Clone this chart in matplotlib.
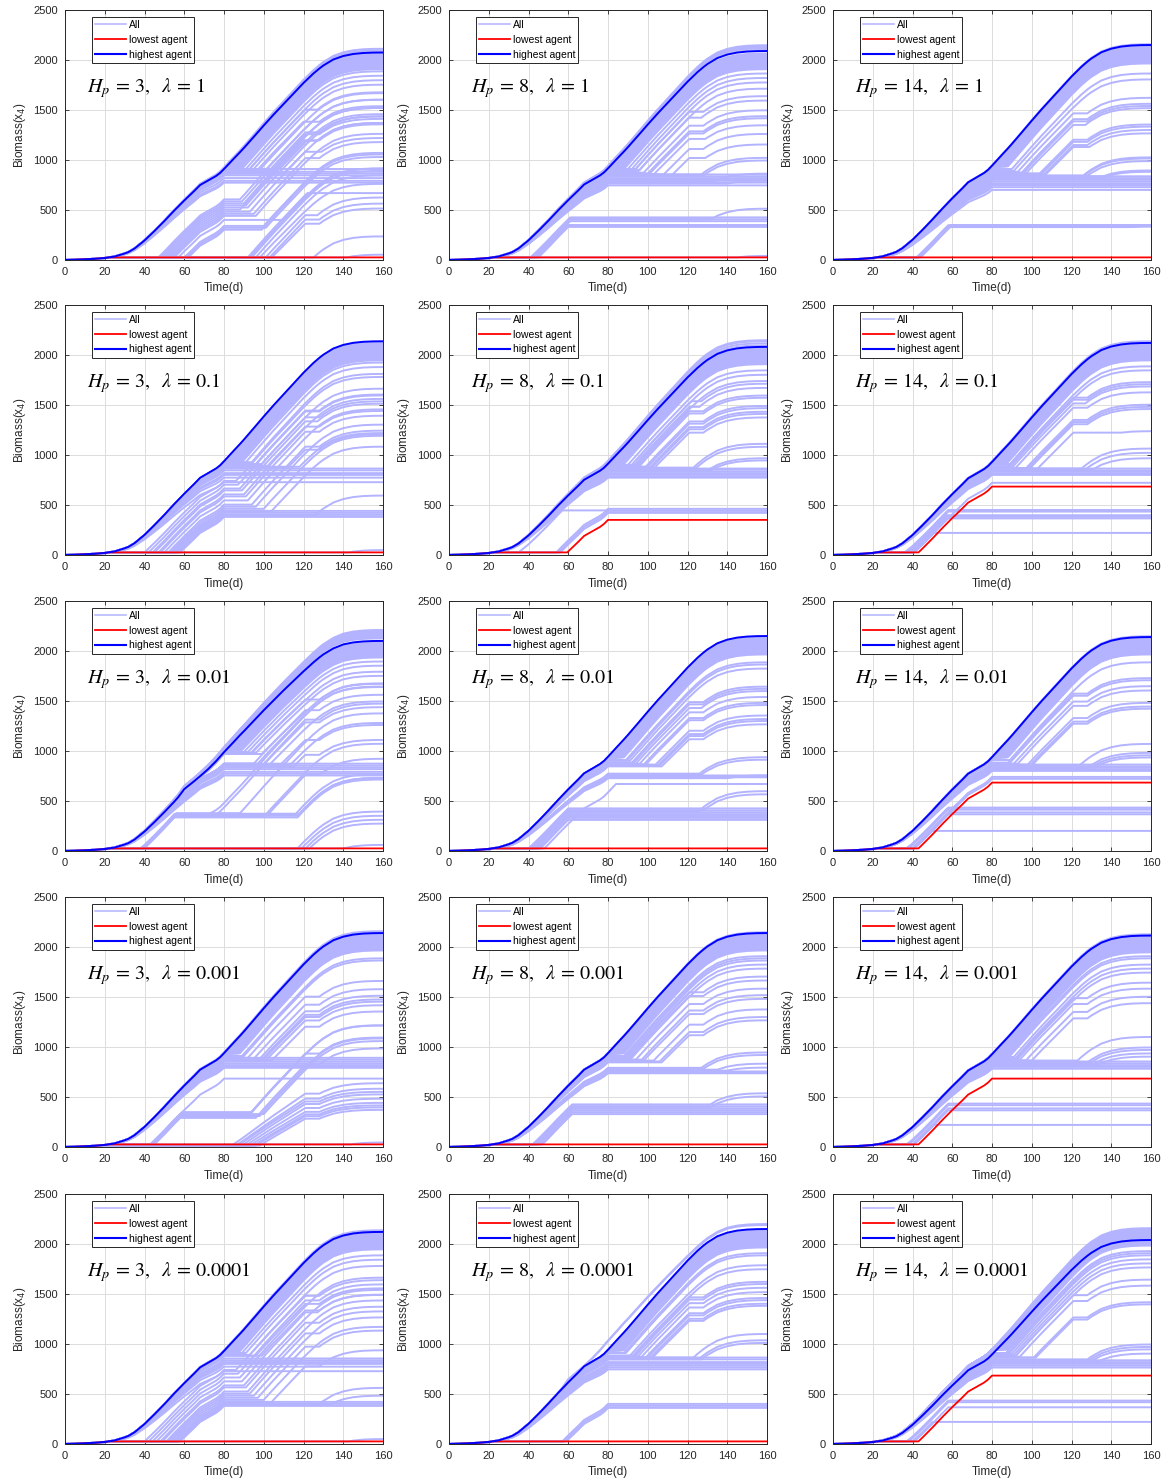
import numpy as np
import matplotlib
matplotlib.use("Agg")
import matplotlib.pyplot as plt
from matplotlib.lines import Line2D

plt.rcParams["font.family"] = ["Liberation Sans", "DejaVu Sans"]

# ---------------------------------------------------------------------------
# Growth curves of a fully active agent (biomass x4 vs. day)
# ---------------------------------------------------------------------------
TIME_KNOTS = [0, 5, 10, 15, 20, 22, 25, 30, 32, 35, 40, 45, 47, 50, 55, 57, 60,
              65, 68, 72, 76, 78, 80, 85, 88, 90, 95, 100, 105, 110, 115, 120,
              125, 128, 130, 135, 140, 145, 150, 155, 160]
GROWTH_A = [0, 3, 7, 12, 20, 26, 35, 65, 80, 115, 195, 290, 330, 390, 495, 535,
            595, 690, 750, 795, 840, 870, 910, 1015, 1077, 1120, 1232, 1345,
            1455, 1560, 1665, 1770, 1865, 1915, 1945, 2005, 2040, 2060, 2070,
            2074, 2075]
GROWTH_B = [0, 3, 7, 12, 20, 26, 35, 65, 80, 115, 195, 290, 330, 390, 495, 540,
            620, 700, 750, 820, 900, 945, 990, 1095, 1160, 1200, 1305, 1410,
            1510, 1610, 1705, 1800, 1890, 1940, 1970, 2030, 2070, 2090, 2100,
            2104, 2105]

HP_VALUES = [3, 8, 14]
LAMBDA_LABELS = ["1", "0.1", "0.01", "0.001", "0.0001"]

# highest agent: growth curve and gain for every (lambda row, Hp column)
TOP_BASE = [["A", "A", "A"],
            ["A", "A", "A"],
            ["B", "A", "A"],
            ["A", "A", "A"],
            ["A", "A", "A"]]
TOP_GAIN = [[1.0, 1.007, 1.036],
            [1.03, 1.003, 1.022],
            [0.998, 1.036, 1.031],
            [1.031, 1.031, 1.019],
            [1.022, 1.036, 0.983]]

# lowest agent: days on which growth switches off / on
LOW_TOGGLES = [[(22,), (22,), (22,)],
               [(22,), (22, 59.5, 80), (22, 43, 80)],
               [(22,), (22,), (22, 43, 80)],
               [(22,), (22,), (22, 43, 80)],
               [(22,), (22,), (22, 43, 80)]]

# days on which agents of the upper fan resume growth after the day-80 pause
FAN_RESTART = [80.5, 81, 81.5, 82, 82.5, 83, 83.5, 84, 84.5, 85, 85.5, 86,
               86.5, 87, 87.5, 88]
# gain of the upper fan in each panel
FAN_GAIN = [[1.0, 1.0, 1.03],
            [1.02, 1.0, 1.02],
            [1.0, 1.03, 1.03],
            [1.03, 1.03, 1.02],
            [1.02, 1.03, 1.04]]

# every other agent: (gain, switch days); growth is on at day 0
AGENTS_1_1 = [
    (1.01, ()), (1.018, ()), (0.995, ()), (1.005, ()),
    (1.0, (80, 89)), (1.0, (80, 91)), (1.0, (80, 93)), (1.0, (80, 95)),
    (0.99, (80, 98)), (0.99, (80, 101)), (0.98, (80, 104)), (0.98, (80, 107)),
    (0.98, (80, 92, 121, 127)), (0.97, (80, 96, 120, 128)),
    (0.96, (80, 102, 121, 128)), (0.95, (80, 110, 121, 129)),
    (0.85, (80,)), (0.87, (80,)), (0.9, (80,)), (0.93, (80,)), (0.95, (80,)),
    (0.97, (80,)), (1.0, (80,)),
    (1.0, (22, 47, 80, 88)), (1.0, (22, 48, 80, 89, 121, 128)),
    (1.0, (22, 49, 80, 90)), (1.0, (22, 50, 80, 91, 121, 127)),
    (1.0, (22, 51, 80, 92)), (1.0, (22, 52, 80, 88, 120, 128)),
    (1.0, (22, 53, 80, 93)), (1.0, (22, 54, 80, 95, 121, 128)),
    (1.0, (22, 55, 80, 96)), (1.0, (22, 57, 80, 110)),
    (1.0, (22, 60, 80, 100)), (1.0, (22, 61, 80, 101)), (1.0, (22, 62, 80, 99)),
    (1.0, (22, 93)), (1.0, (22, 94)), (1.0, (22, 96)), (0.95, (22, 98)),
    (1.0, (22, 92, 122)), (1.0, (22, 101, 121, 127)),
    (1.0, (22, 103, 121, 128)), (0.95, (22, 104, 121, 128)),
    (1.0, (22, 125)), (1.0, (22, 142)),
]
AGENTS_1_2 = [
    (1.02, ()), (1.03, ()), (1.035, ()), (1.012, ()), (1.025, ()),
    (1.0, (80, 90)), (1.0, (80, 92)), (1.0, (80, 94)), (0.99, (80, 96)),
    (0.98, (80, 93, 121, 128)), (0.97, (80, 95, 121, 127)),
    (0.96, (80, 98, 121, 128)), (0.95, (80, 100, 121, 128)),
    (0.95, (80, 101, 121, 128)), (0.94, (80, 103, 121, 129)),
    (0.94, (80, 108, 121, 128)), (0.93, (80, 112, 121, 129)),
    (0.93, (80, 128)), (0.94, (80, 127)),
    (0.82, (80,)), (0.85, (80,)), (0.87, (80,)), (0.88, (80,)), (0.9, (80,)),
    (0.92, (80,)), (0.94, (80,)), (0.86, (80, 133)), (0.84, (80, 140)),
    (1.0, (22, 41, 61)), (1.0, (22, 42, 61)), (1.0, (22, 43, 61)),
    (1.0, (22, 44, 60)), (1.0, (22, 45, 60)), (1.0, (22, 42, 61, 132)),
    (1.0, (22, 145)),
]
AGENTS_1_3 = [
    (1.03, ()), (1.04, ()),
    (1.0, (80, 90)), (0.98, (80, 91)),
    (0.97, (80, 93, 121, 128)), (0.96, (80, 95, 121, 128)),
    (0.96, (80, 96, 121, 128)), (0.95, (80, 97, 121, 127)),
    (0.95, (80, 104, 121, 128)), (0.95, (80, 105, 121, 128)),
    (0.94, (80, 106, 121, 128)), (0.94, (80, 107, 121, 129)),
    (0.92, (80, 126)), (0.93, (80, 126)), (0.91, (80, 127)),
    (0.9, (80, 135)), (0.92, (80, 136)),
    (0.77, (80,)), (0.8, (80,)), (0.82, (80,)), (0.84, (80,)), (0.86, (80,)),
    (0.88, (80,)), (0.9, (80,)), (0.92, (80,)), (0.83, (80, 150)),
    (1.0, (22, 43, 58, 150)), (1.0, (22, 43, 59)), (1.0, (22, 44, 59, 148)),
    (1.0, (22, 42, 58)),
]
AGENTS_2_1 = [
    (1.025, ()), (1.02, ()),
    (1.02, (80, 89)), (1.02, (80, 91)), (1.02, (80, 94)),
    (1.0, (80, 96, 121, 128)), (1.0, (80, 99, 121, 128)),
    (0.98, (80, 102, 121, 128)),
    (0.8, (80,)), (0.85, (80,)), (0.88, (80,)), (0.9, (80,)), (0.93, (80,)),
    (0.95, (80,)), (0.97, (80, 118)), (0.96, (80, 112, 121, 128)),
    (1.0, (22, 40, 80, 86)), (1.0, (22, 42, 80, 87, 121, 128)),
    (1.0, (22, 44, 80, 88)), (1.0, (22, 45, 80, 89, 121, 127)),
    (1.0, (22, 47, 80, 90)), (1.0, (22, 48, 80, 91, 121, 128)),
    (1.0, (22, 50, 80, 92)), (1.0, (22, 52, 80, 94, 121, 128)),
    (1.0, (22, 53, 80, 96)), (1.0, (22, 54, 80, 100)),
    (1.0, (22, 55, 80, 104)),
    (1.0, (22, 55, 80)), (1.0, (22, 56, 80)), (1.0, (22, 57, 80)),
    (1.0, (22, 58, 80)), (1.0, (22, 57, 80, 126)),
    (1.0, (22, 143)),
]
AGENTS_2_2 = [
    (1.02, ()), (1.03, ()), (1.035, ()), (1.01, ()),
    (0.99, (80, 90)), (0.99, (80, 92)), (0.98, (80, 94)),
    (0.99, (80, 92, 122, 127)), (0.98, (80, 93, 121, 126)),
    (0.98, (80, 95, 121, 128)), (0.98, (80, 96, 121, 128)),
    (0.97, (80, 99, 121, 128)), (0.97, (80, 100, 121, 128)),
    (0.96, (80, 101, 121, 128)), (0.96, (80, 102, 121, 128)),
    (0.95, (80, 103, 121, 128)),
    (0.95, (80, 124)), (0.96, (80, 123)), (0.93, (80, 130)), (0.92, (80, 131)),
    (0.85, (80,)), (0.86, (80,)), (0.88, (80,)), (0.9, (80,)), (0.92, (80,)),
    (0.94, (80,)), (0.95, (80,)),
    (1.0, (22, 35, 57)), (1.0, (22, 54, 80)), (1.0, (22, 55, 80)),
    (1.0, (22, 56, 80)),
]
AGENTS_2_3 = [
    (1.025, ()), (1.03, ()),
    (1.0, (80, 89)), (0.99, (80, 90)),
    (0.97, (80, 88, 121, 128)), (0.97, (80, 89, 121, 128)),
    (0.96, (80, 90, 121, 127)), (0.96, (80, 92, 121, 128)),
    (0.95, (80, 97, 121, 128)), (0.95, (80, 98, 121, 128)),
    (0.95, (80, 99, 121, 128)), (0.95, (80, 103, 121, 145)),
    (0.94, (80, 127)), (0.95, (80, 125)), (0.93, (80, 130)),
    (0.88, (80,)), (0.9, (80,)), (0.92, (80,)), (0.93, (80,)), (0.95, (80,)),
    (1.0, (22, 41, 80)),
    (1.0, (22, 36, 58)), (1.0, (22, 37, 58)), (1.0, (22, 38, 57)),
    (1.0, (22, 39, 57)), (1.0, (22, 40, 57)),
    (1.0, (22, 40, 50)),
]
AGENTS_3_1 = [
    (0.83, (80,)), (0.85, (80,)), (0.87, (80,)), (0.9, (80,)), (0.92, (80,)),
    (0.94, (80,)), (0.96, (80,)),
    (0.96, (80, 95, 121, 128)), (0.96, (80, 97)), (0.95, (80, 100, 121, 128)),
    (0.95, (80, 103)), (0.94, (80, 108, 121, 128)), (0.94, (80, 113)),
    (0.93, (80, 115, 121, 128)),
    (1.0, (22, 39, 55, 70)), (1.0, (22, 39, 55, 74, 121, 128)),
    (1.0, (22, 38, 56, 88)), (1.0, (22, 39, 55, 100)),
    (1.0, (22, 39, 56, 102, 121, 128)), (1.03, (22, 38, 55, 116)),
    (1.03, (22, 39, 55, 117)), (1.03, (22, 39, 56, 118)),
    (1.03, (22, 40, 55, 117)),
    (1.0, (22, 117)), (1.0, (22, 119)), (1.0, (22, 121)), (1.0, (22, 123)),
    (1.0, (22, 140)),
]
SMOOTH_3_1 = [
    (0.99, ()), (1.01, ()), (1.02, ()), (1.03, ()), (1.04, ()), (1.045, ()),
    (1.05, ()), (1.015, ()), (1.025, ()), (1.035, ()),
    (1.0, (80, 90)), (1.0, (80, 92)), (0.99, (80, 94)), (0.99, (80, 96)),
    (0.98, (80, 99)), (0.98, (80, 93, 121, 128)),
]
AGENTS_3_2 = [
    (1.03, ()), (1.025, ()),
    (1.0, (80, 89)), (1.0, (80, 90)), (0.99, (80, 91)),
    (0.97, (80, 92, 121, 128)), (0.97, (80, 93, 121, 128)),
    (0.96, (80, 94, 121, 127)), (0.96, (80, 96, 121, 128)),
    (0.95, (80, 98, 121, 128)), (0.95, (80, 99, 121, 128)),
    (0.95, (80, 104, 121, 128)), (0.94, (80, 105, 121, 128)),
    (0.94, (80, 106, 121, 128)), (0.93, (80, 107, 121, 128)),
    (0.81, (80,)), (0.82, (80,)), (0.83, (80,)), (0.8, (80, 140)),
    (0.85, (80, 126)), (0.84, (80, 127)),
    (1.0, (22, 48, 84)),
    (1.0, (22, 40, 60)), (1.0, (22, 41, 60)), (1.0, (22, 42, 60)),
    (1.0, (22, 43, 60)), (1.0, (22, 44, 60)), (1.0, (22, 45, 60)),
    (1.0, (22, 46, 60)), (1.0, (22, 41, 60, 128)), (1.0, (22, 42, 60, 125)),
]
AGENTS_3_3 = [
    (1.03, ()), (1.035, ()),
    (1.0, (80, 89)),
    (0.97, (80, 88, 121, 128)), (0.97, (80, 89, 121, 128)),
    (0.96, (80, 91, 121, 128)), (0.96, (80, 93, 121, 128)),
    (0.95, (80, 98, 121, 128)), (0.94, (80, 99, 121, 128)),
    (0.94, (80, 100, 121, 128)),
    (0.94, (80, 124)), (0.92, (80, 130)), (0.93, (80, 129)), (0.91, (80, 131)),
    (0.88, (80,)), (0.9, (80,)), (0.92, (80,)), (0.93, (80,)), (0.95, (80,)),
    (1.0, (22, 41, 80)), (1.0, (22, 40, 80)),
    (1.0, (22, 37, 58)), (1.0, (22, 38, 58)), (1.0, (22, 37, 57)),
    (1.0, (22, 40, 58)), (1.0, (22, 41, 58)),
    (1.0, (22, 40, 49)),
]
AGENTS_4_1 = [
    (1.035, ()), (1.04, ()),
    (1.0, (80, 89)), (1.0, (80, 90)),
    (0.98, (80, 92, 121, 128)), (0.97, (80, 95, 121, 128)),
    (0.97, (80, 98, 121, 128)), (0.96, (80, 99, 121, 128)),
    (0.96, (80, 100, 121, 128)), (0.95, (80, 101, 121, 128)),
    (0.95, (80, 104, 121, 128)),
    (0.87, (80,)), (0.88, (80,)), (0.9, (80,)), (0.92, (80,)), (0.94, (80,)),
    (0.96, (80,)), (0.98, (80,)),
    (1.0, (22, 43, 58, 93)), (1.0, (22, 44, 58, 92, 121, 128)),
    (1.0, (22, 43, 59, 94)), (1.0, (22, 45, 58, 96, 121, 128)),
    (1.0, (22, 43, 58, 100)), (1.0, (22, 44, 58, 98)),
    (0.65, (22, 84, 121, 128)), (0.62, (22, 86, 121, 128)),
    (0.6, (22, 87, 121, 128)), (0.6, (22, 89, 121, 128)),
    (0.58, (22, 91, 121, 128)), (0.56, (22, 93, 121, 128)),
    (0.56, (22, 95, 121, 128)), (0.55, (22, 96, 121, 128)),
    (0.55, (22, 98, 121, 128)),
    (1.0, (22, 43, 80)), (1.0, (22, 144)),
]
AGENTS_4_2 = [
    (1.035, ()), (1.025, ()),
    (1.0, (80, 88)), (1.0, (80, 89)), (1.0, (80, 90)), (0.99, (80, 91)),
    (0.98, (80, 92)),
    (0.98, (80, 90, 121, 128)), (0.97, (80, 91, 121, 128)),
    (0.96, (80, 94, 121, 128)), (0.96, (80, 97, 121, 128)),
    (0.95, (80, 98, 121, 128)), (0.95, (80, 103, 121, 128)),
    (0.94, (80, 106, 121, 128)), (0.93, (80, 107, 121, 128)),
    (0.86, (80, 128)), (0.87, (80, 127)), (0.84, (80, 140)), (0.85, (80, 135)),
    (0.81, (80,)), (0.82, (80,)), (0.83, (80,)),
    (1.0, (22, 42, 62)), (1.0, (22, 43, 62)), (1.0, (22, 44, 62)),
    (1.0, (22, 45, 62)), (1.0, (22, 46, 62)), (1.0, (22, 47, 62)),
    (1.0, (22, 43, 62, 130)), (1.0, (22, 44, 62, 131)),
]
AGENTS_4_3 = [
    (1.025, ()), (1.02, ()),
    (1.0, (80, 88)), (1.0, (80, 89)), (0.99, (80, 91)), (0.98, (80, 92)),
    (0.97, (80, 93)),
    (0.97, (80, 92, 121, 128)), (0.96, (80, 94, 121, 128)),
    (0.95, (80, 97, 121, 128)), (0.95, (80, 100, 121, 128)),
    (0.95, (80, 123)), (0.93, (80, 128)), (0.92, (80, 129)), (0.91, (80, 131)),
    (0.9, (80, 133)),
    (0.86, (80,)), (0.88, (80,)), (0.9, (80,)), (0.92, (80,)), (0.94, (80,)),
    (1.0, (22, 37, 58)), (1.0, (22, 38, 58)), (1.0, (22, 40, 58)),
    (1.0, (22, 41, 58)),
    (1.0, (22, 40, 50)),
]
AGENTS_5_1 = [
    (1.025, ()), (1.03, ()),
    (1.0, (80, 89)), (1.0, (80, 91)),
    (0.98, (80, 93, 121, 128)), (0.97, (80, 96, 121, 128)),
    (0.97, (80, 99, 121, 128)),
    (0.8, (80,)), (0.85, (80,)), (0.88, (80,)), (0.9, (80,)), (0.92, (80,)),
    (0.94, (80,)),
    (1.0, (22, 40, 80, 86)), (1.0, (22, 42, 80, 87, 121, 128)),
    (1.0, (22, 44, 80, 88)), (1.0, (22, 46, 80, 89, 121, 127)),
    (1.0, (22, 48, 80, 90)), (1.0, (22, 49, 80, 91, 121, 128)),
    (1.0, (22, 51, 80, 92)), (1.0, (22, 52, 80, 93, 121, 128)),
    (1.0, (22, 53, 80, 95)), (1.0, (22, 54, 80, 97, 121, 128)),
    (1.0, (22, 55, 80, 100)), (1.0, (22, 56, 80, 104, 121, 128)),
    (1.0, (22, 56, 80)), (1.0, (22, 57, 80)), (1.0, (22, 58, 80)),
    (1.0, (22, 57, 80, 134)), (1.0, (22, 57, 80, 128)),
    (1.0, (22, 143)),
]
AGENTS_5_2 = [
    (1.03, ()),
    (1.0, (80, 88)), (1.0, (80, 89)), (0.97, (80, 91)), (0.96, (80, 92)),
    (0.97, (80, 93, 121, 128)), (0.97, (80, 94, 121, 128)),
    (0.96, (80, 95, 121, 128)), (0.96, (80, 97, 121, 128)),
    (0.95, (80, 99, 121, 128)), (0.95, (80, 100, 121, 128)),
    (0.94, (80, 101, 121, 128)), (0.94, (80, 102, 121, 128)),
    (0.95, (80, 123)), (0.94, (80, 126)), (0.93, (80, 127)),
    (0.82, (80,)), (0.84, (80,)), (0.86, (80,)), (0.88, (80,)), (0.9, (80,)),
    (0.93, (80,)), (0.95, (80,)),
    (1.0, (22, 57, 80)), (1.0, (22, 58, 80)), (1.0, (22, 59, 80)),
]
SMOOTH_5_2 = [(1.045, ()), (1.04, ())]
AGENTS_5_3 = [
    (0.995, ()), (1.0, ()), (1.01, ()), (1.02, ()), (1.03, ()), (1.04, ()),
    (1.015, ()), (1.025, ()), (1.035, ()),
    (1.0, (80, 87)), (1.0, (80, 88)), (1.0, (80, 89)), (0.99, (80, 90)),
    (0.98, (80, 91)), (0.97, (80, 92)),
    (0.97, (80, 92, 121, 128)), (0.96, (80, 94, 121, 128)),
    (0.95, (80, 101, 121, 128)), (0.95, (80, 102, 121, 128)),
    (0.93, (80, 128)), (0.92, (80, 129)), (0.91, (80, 130)), (0.9, (80, 133)),
    (0.84, (80,)), (0.86, (80,)), (0.88, (80,)), (0.9, (80,)), (0.92, (80,)),
    (1.0, (22, 37, 58)), (1.0, (22, 38, 58)), (1.0, (22, 41, 58)),
    (1.0, (22, 40, 50)),
]

AGENTS = [[AGENTS_1_1, AGENTS_1_2, AGENTS_1_3],
          [AGENTS_2_1, AGENTS_2_2, AGENTS_2_3],
          [AGENTS_3_1, AGENTS_3_2, AGENTS_3_3],
          [AGENTS_4_1, AGENTS_4_2, AGENTS_4_3],
          [AGENTS_5_1, AGENTS_5_2, AGENTS_5_3]]
SMOOTH = {(2, 0): SMOOTH_3_1, (4, 1): SMOOTH_5_2}

BASES = {"A": np.array(GROWTH_A, float), "B": np.array(GROWTH_B, float)}
KNOTS = np.array(TIME_KNOTS, float)

LIGHT = "#b3b3ff"
AX_COLOR = "#262626"


def agent_curve(base, gain, toggles):
    """Biomass that accumulates the base growth only while the agent is on."""
    toggles = np.sort(np.asarray(toggles, float))
    ts = np.unique(np.concatenate([KNOTS, toggles]))
    g = np.interp(ts, KNOTS, BASES[base])
    mids = 0.5 * (ts[:-1] + ts[1:])
    on = (np.searchsorted(toggles, mids) % 2) == 0
    y = np.concatenate([[g[0]], g[0] + np.cumsum(np.diff(g) * on)])
    return ts, gain * y


fig = plt.figure(figsize=(11.68, 14.82), dpi=100)
W, H = 1168.0, 1482.0
col_left = [65, 449, 833]
row_top = [10, 305, 601, 897, 1194]
ax_w, ax_h = 318, 250

for r in range(5):
    for c in range(3):
        ax = fig.add_axes([col_left[c] / W, 1 - (row_top[r] + ax_h) / H,
                           ax_w / W, ax_h / H])
        base_fan = TOP_BASE[r][c]
        for rs in FAN_RESTART:
            t, y = agent_curve(base_fan, FAN_GAIN[r][c], (80, rs))
            ax.plot(t, y, color=LIGHT, lw=1.4, zorder=2)
        for gain, tg in AGENTS[r][c]:
            t, y = agent_curve("A", gain, tg)
            ax.plot(t, y, color=LIGHT, lw=1.4, zorder=2)
        for gain, tg in SMOOTH.get((r, c), []):
            t, y = agent_curve("B", gain, tg)
            ax.plot(t, y, color=LIGHT, lw=1.4, zorder=2)
        t, y = agent_curve("A", 1.0, LOW_TOGGLES[r][c])
        ax.plot(t, y, color="#ff0000", lw=1.3, zorder=3)
        t, y = agent_curve(TOP_BASE[r][c], TOP_GAIN[r][c], ())
        ax.plot(t, y, color="#0000ff", lw=1.4, zorder=4)

        ax.set_xlim(0, 160)
        ax.set_ylim(0, 2500)
        ax.set_xticks(np.arange(0, 161, 20))
        ax.set_yticks(np.arange(0, 2501, 500))
        ax.grid(True, color="#dcdcdc", lw=0.7)
        ax.set_axisbelow(True)
        ax.tick_params(direction="in", top=True, right=True, length=3,
                       width=0.6, labelsize=8, colors=AX_COLOR, pad=5)
        for s in ax.spines.values():
            s.set_color(AX_COLOR)
            s.set_linewidth(0.7)
        ax.set_xlabel("Time(d)", fontsize=8.5, color=AX_COLOR, labelpad=4)
        ax.set_ylabel("Biomass(x$_4$)", fontsize=8.5, color=AX_COLOR,
                      labelpad=4)

        ax.text(11, 1720,
                r"$H_p\,=\,%d,\ \ \lambda\,=\,%s$" % (HP_VALUES[c], LAMBDA_LABELS[r]),
                fontsize=14.5, math_fontfamily="stix", va="center",
                ha="left", zorder=6)

        handles = [Line2D([], [], color=LIGHT, lw=1.1),
                   Line2D([], [], color="#ff0000", lw=1.3),
                   Line2D([], [], color="#0000ff", lw=1.5)]
        leg = ax.legend(handles, ["All", "lowest agent", "highest agent"],
                        loc="upper left", bbox_to_anchor=(0.086, 0.972),
                        fontsize=7.5, fancybox=False, framealpha=1,
                        edgecolor=AX_COLOR, borderpad=0.3,
                        labelspacing=0.45, handlelength=2.9,
                        handletextpad=0.3, borderaxespad=0)
        leg.get_frame().set_linewidth(0.7)
        leg.set_zorder(7)

fig.savefig("out.png", dpi=100)
